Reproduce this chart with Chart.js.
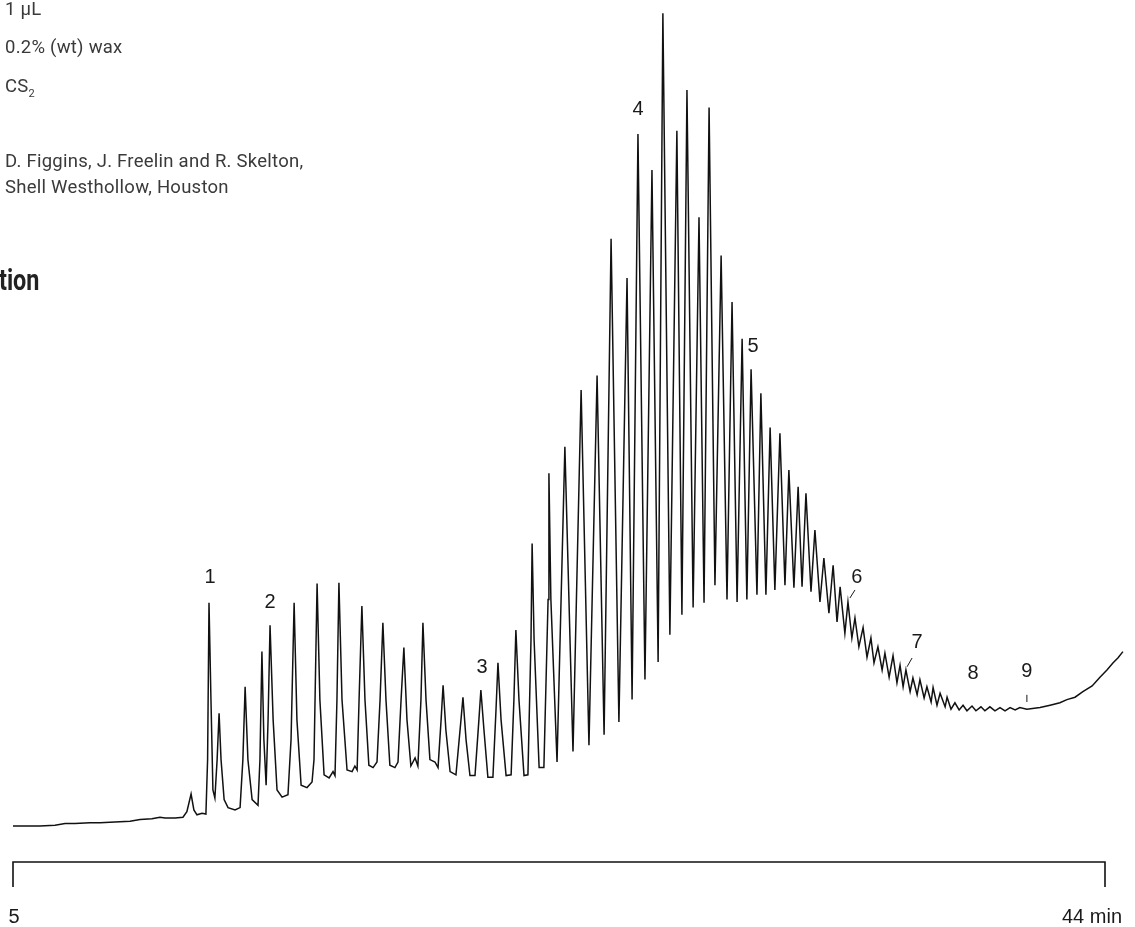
<!DOCTYPE html>
<html>
<head>
<meta charset="utf-8">
<script src="https://cdn.jsdelivr.net/npm/chart.js@4.4.1/dist/chart.umd.min.js"></script>
<style>
html, body { margin: 0; padding: 0; background: #fff; }
#wrap { position: relative; width: 1135px; height: 927px; overflow: hidden; }
#chart { position: absolute; left: 0; top: 0; }
.note { position: absolute; left: 5px; font-family: 'Roboto', sans-serif; font-size: 18.5px; letter-spacing: 0.25px; color: #3a3a3a; white-space: nowrap; line-height: 1; }
.note sub { font-size: 11px; vertical-align: -5px; letter-spacing: 0; }
.head { position: absolute; left: -1px; top: 265px; font-family: 'Roboto', sans-serif; font-weight: bold; font-size: 30px; color: #222; line-height: 1; transform: scaleX(0.78); transform-origin: left top; }
</style>
</head>
<body>
<div id="wrap">
  <canvas id="chart" width="1135" height="927"></canvas>
  <div class="note" style="top:0px">1 µL</div>
  <div class="note" style="top:38px">0.2% (wt) wax</div>
  <div class="note" style="top:77px">CS<sub>2</sub></div>
  <div class="note" style="top:152px">D. Figgins, J. Freelin and R. Skelton,</div>
  <div class="note" style="top:178px">Shell Westhollow, Houston</div>
  <div class="head">tion</div>
</div>
<script>
// retention time (min) and detector response
const rt = [5.00,5.96,6.50,6.86,7.21,7.75,8.11,8.64,9.18,9.54,
  9.96,10.25,10.43,10.79,11.07,11.21,11.36,11.46,11.57,11.75,
  11.89,11.95,12.00,12.07,12.14,12.21,12.29,12.36,12.43,12.54,
  12.68,12.93,13.11,13.21,13.29,13.39,13.54,13.75,13.82,13.89,
  13.96,14.04,14.11,14.18,14.29,14.43,14.61,14.82,14.93,15.04,
  15.14,15.29,15.50,15.68,15.75,15.86,15.96,16.11,16.29,16.43,
  16.50,16.57,16.64,16.75,16.93,17.11,17.21,17.29,17.36,17.46,
  17.57,17.71,17.86,18.00,18.11,18.21,18.32,18.46,18.64,18.75,
  18.86,18.96,19.07,19.21,19.36,19.46,19.57,19.64,19.75,19.89,
  20.07,20.18,20.29,20.36,20.46,20.61,20.82,21.00,21.07,21.18,
  21.32,21.50,21.64,21.71,21.82,21.96,22.14,22.25,22.32,22.43,
  22.61,22.79,22.89,22.96,23.07,23.25,23.39,23.50,23.54,23.61,
  23.79,23.96,24.11,24.14,24.21,24.43,
  24.71,25.00,25.29,25.57,25.86,26.11,26.36,26.64,26.93,27.11,
  27.32,27.57,27.82,28.04,28.21,28.46,28.71,28.89,29.07,29.29,
  29.50,29.68,29.86,30.07,30.29,30.50,30.68,30.86,31.04,31.21,
  31.36,31.57,31.71,31.89,32.04,32.21,32.39,32.57,32.71,32.89,
  33.04,33.18,33.32,33.50,33.64,33.82,33.96,34.14,34.29,34.43,
  34.54,34.71,34.82,34.96,35.07,35.21,35.36,35.50,35.64,35.75,
  35.89,36.04,36.14,36.29,36.43,36.57,36.68,36.79,36.89,37.04,
  37.14,37.29,37.39,37.54,37.64,37.79,37.86,38.00,38.11,38.29,
  38.36,38.50,38.64,38.79,38.93,39.07,39.25,39.39,39.57,39.71,
  39.89,40.07,40.25,40.43,40.61,40.79,40.96,41.21,41.68,42.04,
  42.39,42.64,42.93,43.21,43.54,43.82,44.07,44.29,44.46,44.64];

const signal = [0.0,0.0,0.1,0.3,0.3,0.4,0.4,0.5,0.6,0.8,
  0.9,1.1,1.0,1.0,1.1,1.8,4.0,2.0,1.4,1.6,
  1.5,8.3,27.9,15.8,4.5,3.5,8.3,14.1,8.3,3.3,
  2.3,2.0,2.3,8.3,17.4,8.3,3.3,2.6,8.3,21.8,
  10.8,5.1,13.3,25.1,13.3,4.5,3.6,3.9,10.8,27.9,
  13.3,5.1,4.8,5.5,8.3,30.3,15.8,6.4,6.0,6.8,
  6.3,15.8,30.4,15.8,7.0,6.8,7.5,7.0,15.8,27.5,
  15.8,7.6,7.3,8.0,15.8,25.4,15.8,7.6,7.3,8.0,
  15.8,22.3,13.3,7.5,8.5,7.5,15.8,25.4,15.8,8.3,
  8.0,7.3,13.3,17.6,12.0,6.8,6.4,13.3,16.1,10.8,
  6.3,6.3,13.3,17.0,12.0,6.1,6.1,14.5,20.4,13.3,
  6.3,6.4,15.8,24.5,15.8,6.3,6.4,23.3,35.3,23.3,
  7.3,7.3,28.3,44.1,28.3,8.0,
  47.4,9.3,54.5,10.1,56.3,11.4,73.4,13.0,68.5,15.8,
  86.5,18.3,82.0,20.5,101.6,23.9,86.9,26.4,92.0,27.3,
  76.1,27.9,89.8,30.1,71.3,28.3,65.5,28.0,60.9,28.3,
  57.1,28.9,54.1,28.9,49.8,29.5,49.1,30.1,44.5,29.8,
  42.4,29.9,41.6,29.3,37.0,28.0,33.5,26.6,32.6,25.5,
  29.9,24.1,28.0,23.5,26.0,22.4,24.8,21.1,23.5,20.4,
  22.4,19.5,21.6,18.6,21.3,17.9,20.1,17.4,19.5,16.8,
  18.5,16.4,18.3,16.0,17.4,15.5,17.3,15.1,16.6,14.9,
  16.1,14.6,15.4,14.5,15.1,14.4,15.0,14.4,14.9,14.4,
  14.9,14.4,14.8,14.4,14.8,14.5,14.8,14.6,14.8,15.1,
  15.4,15.8,16.1,16.8,17.5,18.6,19.5,20.4,21.0,21.8];

// peak numbers and where they sit
const peakNames = ['1','2','3','4','5','6','7','8','9'];
const peakRt = [12.04,14.18,21.75,27.32,31.43,35.14,37.29,39.29,41.21];
const peakSig = [31.1,28.0,19.8,89.6,59.9,31.1,22.9,19.1,19.3];
// small leader strokes [rt1, sig1, rt2, sig2]
const leaders = [[34.89,28.5,35.07,29.5],[36.93,19.9,37.11,21.0],[41.21,16.4,41.21,15.5]];

// time axis
const axisTicks = [5, 44];
const axisTickLabels = ['5', '44 min'];

const extras = {
  id: 'extras',
  afterDatasetsDraw(chart) {
    const {ctx, chartArea} = chart;
    const xs = chart.scales.x, ys = chart.scales.y;
    ctx.save();
    ctx.fillStyle = '#1a1a1a';
    ctx.font = '20px "Liberation Sans", Arial, sans-serif';
    ctx.textAlign = 'center';
    ctx.textBaseline = 'middle';
    peakNames.forEach((n, i) => {
      ctx.fillText(n, xs.getPixelForValue(peakRt[i]), ys.getPixelForValue(peakSig[i]));
    });
    ctx.strokeStyle = '#1a1a1a';
    ctx.lineWidth = 1;
    leaders.forEach(l => {
      ctx.beginPath();
      ctx.moveTo(xs.getPixelForValue(l[0]), ys.getPixelForValue(l[1]));
      ctx.lineTo(xs.getPixelForValue(l[2]), ys.getPixelForValue(l[3]));
      ctx.stroke();
    });

    // axis line with the end ticks hanging down
    const x0 = xs.getPixelForValue(axisTicks[0]);
    const x1 = xs.getPixelForValue(axisTicks[1]);
    const yb = chartArea.bottom;
    ctx.strokeStyle = '#111';
    ctx.lineWidth = 1.6;
    ctx.beginPath();
    ctx.moveTo(x0, yb + 25);
    ctx.lineTo(x0, yb);
    ctx.lineTo(x1, yb);
    ctx.lineTo(x1, yb + 25);
    ctx.stroke();
    ctx.textBaseline = 'alphabetic';
    ctx.textAlign = 'center';
    ctx.fillText(axisTickLabels[0], x0 + 1, yb + 61);
    ctx.textAlign = 'left';
    ctx.fillText(axisTickLabels[1], x1 - 43, yb + 61);
    ctx.restore();
  }
};

const ctx = document.getElementById('chart').getContext('2d');
const chart = new Chart(ctx, {
  type: 'line',
  data: {
    datasets: [{
      label: 'wax',
      data: rt.map((t, i) => ({x: t, y: signal[i]})),
      borderColor: '#111',
      borderWidth: 1.5,
      pointRadius: 0,
      tension: 0,
      fill: false
    }]
  },
  options: {
    responsive: false,
    animation: false,
    layout: { padding: { left: 13, right: 9, top: 2, bottom: 65 } },
    scales: {
      x: { type: 'linear', min: 5, max: 44.75, display: false },
      y: { min: -4.5, max: 103, display: false }
    },
    plugins: { legend: { display: false }, tooltip: { enabled: false } }
  },
  plugins: [extras]
});
</script>
</body>
</html>
